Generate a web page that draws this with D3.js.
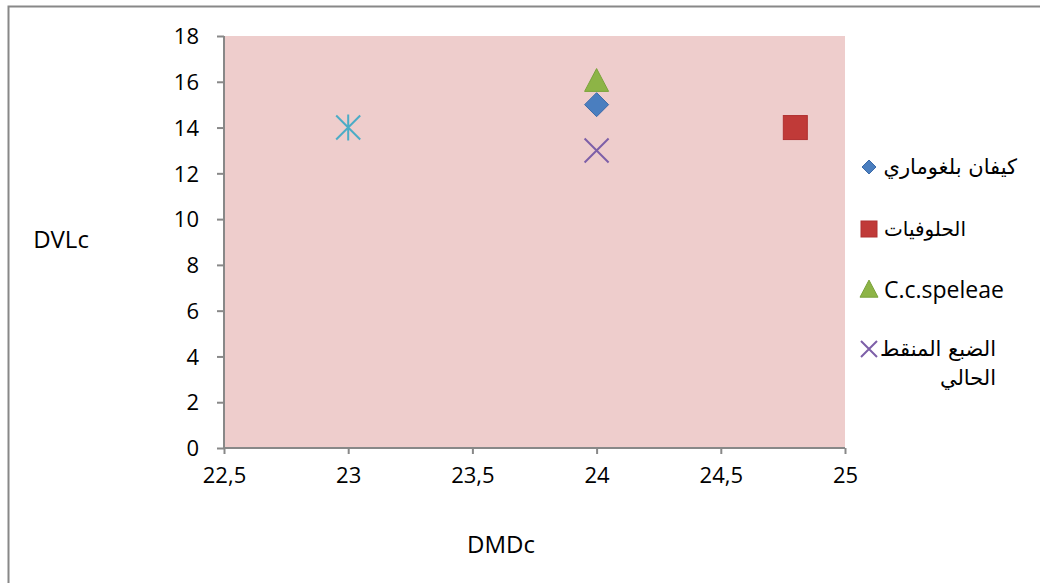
<!DOCTYPE html>
<html>
<head>
<meta charset="utf-8">
<script src="https://cdn.jsdelivr.net/npm/d3@7"></script>
<style>
  body { margin: 0; background: #fff; }
  text { font-family: "Open Sans", "DejaVu Sans", sans-serif; fill: #000; }
  .ar { font-family: "DejaVu Sans", sans-serif; }
</style>
</head>
<body>
<svg id="chart"></svg>
<script>
// series (one point each)
var seriesNames = ["كيفان بلغوماري", "الحلوفيات", "C.c.speleae", "الضبع المنقط الحالي", ""];
var xValues = [24, 24.8, 24, 24, 23];
var yValues = [15, 14, 16, 13, 14];
var xTicks = [22.5, 23, 23.5, 24, 24.5, 25];
var yTicks = [0, 2, 4, 6, 8, 10, 12, 14, 16, 18];

var width = 1040, height = 583;
var svg = d3.select("#chart").attr("width", width).attr("height", height);

// outer chart border
svg.append("rect")
  .attr("x", 8.5).attr("y", 6.5)
  .attr("width", 1040).attr("height", 600)
  .attr("fill", "none").attr("stroke", "#888").attr("stroke-width", 2);

var x = d3.scaleLinear().domain([22.5, 25]).range([224, 845]);
var y = d3.scaleLinear().domain([0, 18]).range([448, 36]);

// plot area
svg.append("rect")
  .attr("x", x(22.5)).attr("y", y(18))
  .attr("width", x(25) - x(22.5)).attr("height", y(0) - y(18))
  .attr("fill", "#eecdcc");

var xAxis = svg.append("g")
  .attr("transform", "translate(0," + y(0) + ")")
  .call(d3.axisBottom(x).tickValues(xTicks).tickSize(6)
    .tickFormat(function(d) { return String(d).replace(".", ","); }));
var yAxis = svg.append("g")
  .attr("transform", "translate(" + x(22.5) + ",0)")
  .call(d3.axisLeft(y).tickValues(yTicks).tickSize(7));

[xAxis, yAxis].forEach(function(a) {
  a.selectAll("path, line").attr("stroke", "#888").attr("stroke-width", 2);
  a.selectAll("text").style("font-size", "22px").style("font-family", "'Open Sans', sans-serif").attr("fill", "#000");
});
xAxis.select(".domain").attr("d", "M" + x(22.5) + ",0H" + x(25));
yAxis.select(".domain").attr("d", "M0," + y(0) + "V" + y(18));
xAxis.selectAll("text").attr("dy", "1.2em");
yAxis.selectAll("text").attr("x", -25).attr("dy", "0.35em");

// axis titles
svg.append("text").attr("x", 501).attr("y", 553)
  .attr("text-anchor", "middle").style("font-size", "24px").text("DMDc");
svg.append("text").attr("x", 61).attr("y", 248)
  .attr("text-anchor", "middle").style("font-size", "24px").text("DVLc");

// marker shapes
function drawMarker(g, i, cx, cy, s) {
  if (i == 0) {
    g.append("path").attr("transform", "translate(" + cx + "," + cy + ")")
      .attr("d", "M0," + (-s) + "L" + s + ",0L0," + s + "L" + (-s) + ",0Z")
      .attr("fill", "#4a7ebf").attr("stroke", "#3b6aa8");
  } else if (i == 1) {
    g.append("rect").attr("x", cx - s).attr("y", cy - s)
      .attr("width", 2 * s).attr("height", 2 * s)
      .attr("fill", "#c03a38").attr("stroke", "#b03030");
  } else if (i == 2) {
    g.append("path").attr("transform", "translate(" + cx + "," + cy + ")")
      .attr("d", "M0," + (-s * 1.1) + "L" + s + "," + (s * 0.8) + "L" + (-s) + "," + (s * 0.8) + "Z")
      .attr("fill", "#8db446").attr("stroke", "#7aa23a");
  } else if (i == 3) {
    g.append("path").attr("transform", "translate(" + cx + "," + cy + ")")
      .attr("d", "M" + (-s) + "," + (-s) + "L" + s + "," + s + "M" + s + "," + (-s) + "L" + (-s) + "," + s)
      .attr("stroke", "#7d5fa8").attr("stroke-width", 2).attr("fill", "none");
  } else {
    g.append("path").attr("transform", "translate(" + cx + "," + cy + ")")
      .attr("d", "M" + (-s) + "," + (-s) + "L" + s + "," + s + "M" + s + "," + (-s) + "L" + (-s) + "," + s + "M0," + (-s - 1) + "V" + (s + 1))
      .attr("stroke", "#4bacc6").attr("stroke-width", 2).attr("fill", "none");
  }
}

var sizes = [12, 12, 12, 12, 12];
var pts = svg.append("g");
// draw order so the diamond sits over the triangle
[4, 3, 1, 2, 0].forEach(function(i) {
  drawMarker(pts, i, x(xValues[i]), y(yValues[i]), sizes[i]);
});

// legend
var legendY = [167, 229, 290, 349];
var legSizes = [7, 8, 9, 8];
var leg = svg.append("g");
for (var i = 0; i < 4; i++) {
  drawMarker(leg, i, 869, legendY[i], legSizes[i]);
}
leg.append("text").attr("class", "ar").attr("x", 1017).attr("y", legendY[0]).attr("dy", "0.35em")
  .attr("text-anchor", "end").style("font-size", "21px").text(seriesNames[0]);
leg.append("text").attr("class", "ar").attr("x", 966).attr("y", legendY[1]).attr("dy", "0.35em")
  .attr("text-anchor", "end").style("font-size", "20px").text(seriesNames[1]);
leg.append("text").attr("x", 884).attr("y", legendY[2]).attr("dy", "0.35em")
  .style("font-size", "23px").text(seriesNames[2]);
leg.append("text").attr("class", "ar").attr("x", 996).attr("y", legendY[3]).attr("dy", "0.35em")
  .attr("text-anchor", "end").style("font-size", "21px").text("الضبع المنقط");
leg.append("text").attr("class", "ar").attr("x", 996).attr("y", legendY[3] + 29).attr("dy", "0.35em")
  .attr("text-anchor", "end").style("font-size", "21px").text("الحالي");
</script>
</body>
</html>
